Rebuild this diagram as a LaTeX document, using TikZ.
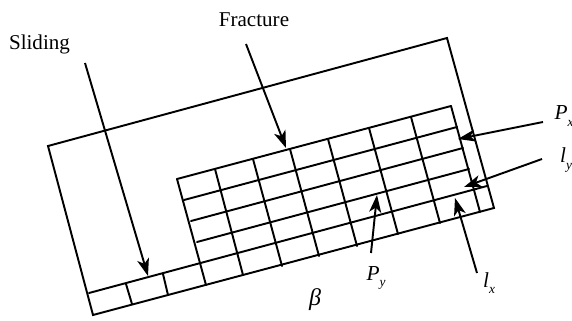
\documentclass[tikz,border=0pt]{standalone}
\usepackage{fontspec}
\setmainfont{Liberation Serif}
\newfontfamily\serifit{Liberation Serif Italic}
\usetikzlibrary{arrows.meta}
\tikzset{
  ln/.style={line width=1.45pt,line cap=round,line join=miter,black},
  arrowln/.style={line width=1.45pt,black,-{Stealth[length=13pt,width=9pt,inset=3.5pt]}},
  lab/.style={inner sep=0pt,font=\fontsize{15.8}{18}\selectfont,anchor=center},
  sym/.style={inner sep=0pt,font=\fontsize{16}{18}\selectfont\serifit,anchor=center}
}
\newcommand{\subsc}[1]{\raisebox{-5pt}{\fontsize{10}{11}\selectfont #1}}
\begin{document}
\begin{tikzpicture}[x=0.75pt,y=-0.75pt]
\useasboundingbox (0,0) rectangle (572,321);
% outer block
\coordinate (A) at (48,146);
\coordinate (B) at (447,38);
\coordinate (C) at (494,208);
\coordinate (D) at (93,315);
\draw[ln] (A) -- (B) -- (C) -- (D) -- cycle;
% strip line
\coordinate (S1) at (89,293);
\coordinate (S2) at (487,186);
\draw[ln] (S1) -- (S2);
% strip cell dividers
\coordinate (c1a) at (126,284); \coordinate (c1b) at (132,304);
\coordinate (c2a) at (163,274); \coordinate (c2b) at (168,295);
\draw[ln] (c1a) -- (c1b);
\draw[ln] (c2a) -- (c2b);
% grid: columns
\foreach \n/\xa/\ya/\xb/\yb in {
  1/177/179/206/285, 2/215/169/243/275, 3/253/159/282/266, 4/290/149/319/256,
  5/328/139/357/246, 6/369/128/398/234, 7/411/117/440/223, 8/451/106/480/212}{
  \coordinate (t\n) at (\xa,\ya);
  \coordinate (b\n) at (\xb,\yb);
  \draw[ln] (t\n) -- (b\n);
}
% grid: rows
\coordinate (r1a) at (184,200); \coordinate (r1b) at (457,127);
\coordinate (r2a) at (191,221); \coordinate (r2b) at (463,148);
\coordinate (r3a) at (197,242); \coordinate (r3b) at (469,169);
\draw[ln] (t1) -- (t8);
\draw[ln] (r1a) -- (r1b);
\draw[ln] (r2a) -- (r2b);
\draw[ln] (r3a) -- (r3b);
% labels
\node[lab] (sliding) at (39.5,44) {Sliding};
\node[lab] (fracture) at (254,20) {Fracture};
\node[sym] (px) at (564,116) {P\subsc{x}};
\node[sym] (ly) at (566,160) {l\subsc{y}};
\node[sym] (py) at (376,278) {P\subsc{y}};
\node[sym] (lx) at (489,283) {l\subsc{x}};
\node[sym,font=\fontsize{18}{20}\selectfont\serifit] (beta) at (315,300) {β};
% arrows
\coordinate (sl0) at (85,63);   \coordinate (sl1) at (148,276);
\coordinate (fr0) at (246,44);  \coordinate (fr1) at (286,148);
\coordinate (px0) at (543,122); \coordinate (px1) at (458,139);
\coordinate (ly0) at (542,159); \coordinate (ly1) at (464,187);
\coordinate (py0) at (371,253); \coordinate (py1) at (377,195);
\coordinate (lx0) at (477,273); \coordinate (lx1) at (455,198);
\draw[arrowln] (sl0) -- (sl1);
\draw[arrowln] (fr0) -- (fr1);
\draw[arrowln] (px0) -- (px1);
\draw[arrowln] (ly0) -- (ly1);
\draw[arrowln] (py0) -- (py1);
\draw[arrowln] (lx0) -- (lx1);
\end{tikzpicture}
\end{document}
